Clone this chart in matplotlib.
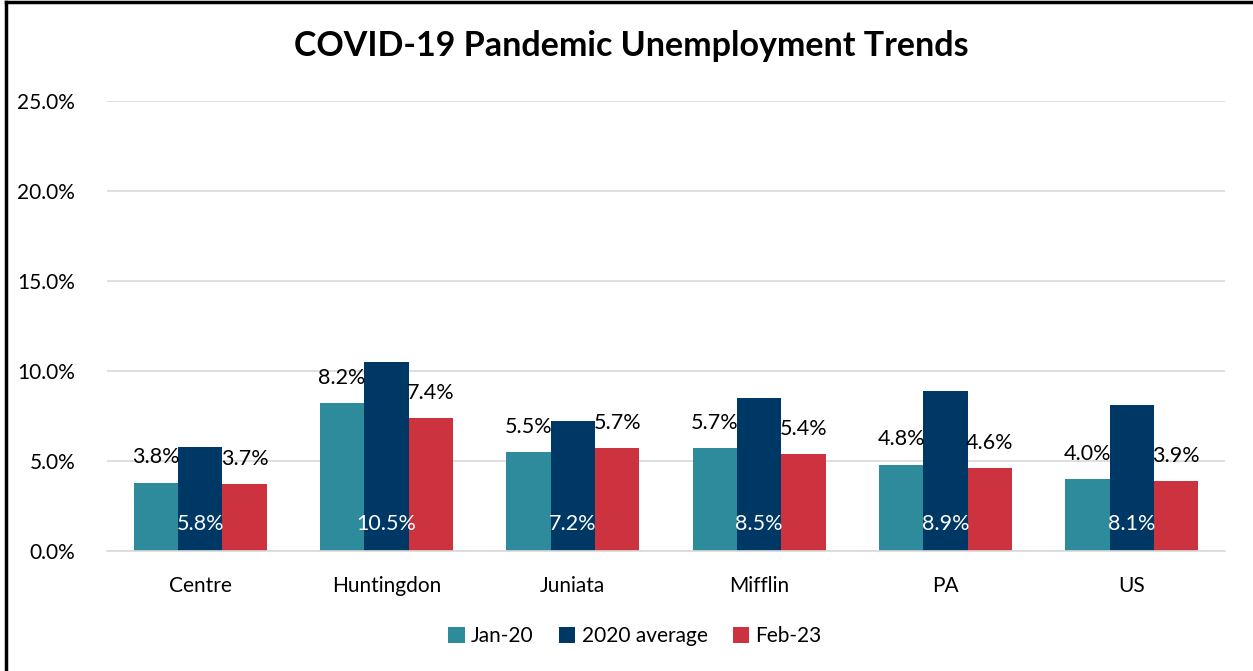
import numpy as np
import matplotlib
matplotlib.use('Agg')
import matplotlib.pyplot as plt
from matplotlib.lines import Line2D
from matplotlib.ticker import FuncFormatter

regions = ['Centre', 'Huntingdon', 'Juniata', 'Mifflin', 'PA', 'US']
series = ['Jan-20', '2020 average', 'Feb-23']
jan20 = [3.8, 8.2, 5.5, 5.7, 4.8, 4.0]
avg2020 = [5.8, 10.5, 7.2, 8.5, 8.9, 8.1]
feb23 = [3.7, 7.4, 5.7, 5.4, 4.6, 3.9]
colors = ['#2e8b9b', '#003865', '#cc333f']

plt.rcParams['font.family'] = ['Lato', 'DejaVu Sans']

fig = plt.figure(figsize=(12.53, 6.71), dpi=100)
ax = fig.add_axes([107 / 1253, 1 - 551 / 671, 1118 / 1253, 450 / 671])

x = np.arange(len(regions))
w = 0.238
for k, (vals, c) in enumerate(zip([jan20, avg2020, feb23], colors)):
    pos = x + (k - 1) * w
    ax.bar(pos, vals, w, color=c, label=series[k], zorder=2)
    for p, v in zip(pos, vals):
        if k == 1:
            ax.text(p, 1.5, f'{v:.1f}%', ha='center', va='center',
                    fontsize=15.5, color='white', zorder=3)
        else:
            ax.text(p, v + 1.4, f'{v:.1f}%', ha='center', va='center',
                    fontsize=15.5, color='black', zorder=3)

ax.set_xlim(-0.5, len(regions) - 0.5)
ax.set_ylim(0, 25)
ax.set_yticks(np.arange(0, 26, 5))
ax.yaxis.set_major_formatter(FuncFormatter(lambda v, _: f'{v:.1f}%'))
ax.set_xticks(x)
ax.set_xticklabels(regions)
ax.tick_params(axis='both', length=0, labelsize=15, colors='black')
ax.tick_params(axis='x', pad=18)
ax.tick_params(axis='y', pad=23)
ax.grid(axis='y', color='#d9d9d9', linewidth=1.2, zorder=0)
ax.set_axisbelow(True)
for s in ['top', 'right', 'left']:
    ax.spines[s].set_visible(False)
ax.spines['bottom'].set_color('#d9d9d9')
ax.spines['bottom'].set_linewidth(1.2)

fig.text(631 / 1253, 1 - 46 / 671, 'COVID-19 Pandemic Unemployment Trends',
         ha='center', va='center', fontsize=24.5, fontweight='bold')

fig.legend(loc='center', bbox_to_anchor=(635 / 1253, 1 - 636 / 671), ncol=3,
           frameon=False, fontsize=15, handlelength=0.8, handleheight=0.8,
           handletextpad=0.3, columnspacing=1.2)

fig.add_artist(Line2D([6 / 1253, 6 / 1253], [0, 1 - 2 / 671], color='black',
                      linewidth=2.5, transform=fig.transFigure))
fig.add_artist(Line2D([6 / 1253, 1], [1 - 2 / 671, 1 - 2 / 671], color='black',
                      linewidth=2.5, transform=fig.transFigure))

fig.savefig('out.png', dpi=100)
